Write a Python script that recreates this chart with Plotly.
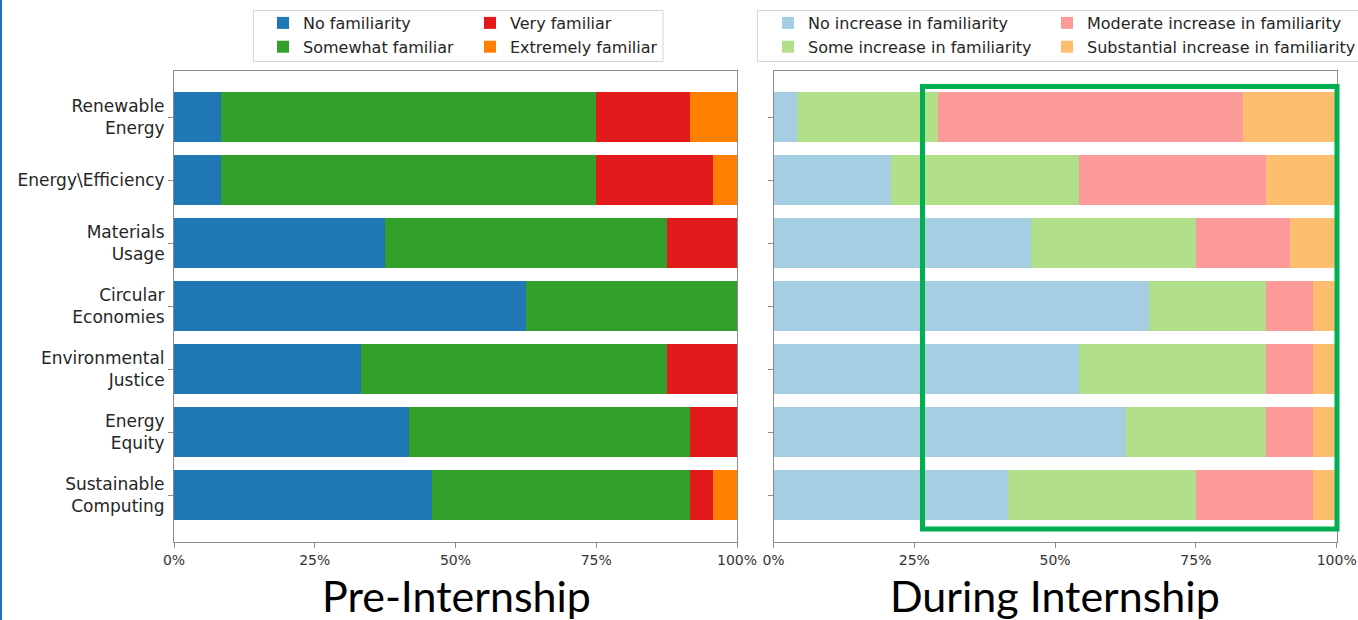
import plotly.graph_objects as go

# ---------------- data ----------------
categories = ["Renewable<br>Energy", "Energy\\Efficiency", "Materials<br>Usage",
              "Circular<br>Economies", "Environmental<br>Justice", "Energy<br>Equity",
              "Sustainable<br>Computing"]

pre_labels = ["No familiarity", "Somewhat familiar", "Very familiar", "Extremely familiar"]
pre_no = [8.3, 8.3, 37.5, 62.5, 33.3, 41.7, 45.8]
pre_somewhat = [66.7, 66.7, 50.0, 37.5, 54.2, 50.0, 45.8]
pre_very = [16.7, 20.8, 12.5, 0.0, 12.5, 8.3, 4.2]
pre_extremely = [8.3, 4.2, 0.0, 0.0, 0.0, 0.0, 4.2]

dur_labels = ["No increase in familiarity", "Some increase in familiarity",
              "Moderate increase in familiarity", "Substantial increase in familiarity"]
dur_none = [4.2, 20.8, 45.8, 66.7, 54.2, 62.5, 41.7]
dur_some = [25.0, 33.4, 29.2, 20.8, 33.3, 25.0, 33.3]
dur_moderate = [54.1, 33.3, 16.7, 8.3, 8.3, 8.3, 20.8]
dur_substantial = [16.7, 12.5, 8.3, 4.2, 4.2, 4.2, 4.2]

x_ticks = [0, 25, 50, 75, 100]
x_tick_labels = ["0%", "25%", "50%", "75%", "100%"]

panel_titles = ["Pre-Internship", "During Internship"]

# ---------------- styling ----------------
W, H = 1358, 620
pre_colors = ["#1f78b4", "#33a02c", "#e31a1c", "#ff7f00"]
dur_colors = ["#a6cee3", "#b2df8a", "#fb9a99", "#fdbf6f"]
TICK_FONT = dict(family="DejaVu Sans", size=14, color="#333333")
LAB_FONT = dict(family="DejaVu Sans", size=17, color="#262626")
LEG_FONT = dict(family="DejaVu Sans", size=16, color="#262626")

def px_x(v):
    return v / W

def px_y(v):
    return 1 - v / H

fig = go.Figure()

pre_series = [pre_no, pre_somewhat, pre_very, pre_extremely]
pre_legends = ["legend", "legend", "legend2", "legend2"]
for name, vals, col, lg in zip(pre_labels, pre_series, pre_colors, pre_legends):
    fig.add_trace(go.Bar(x=vals, y=categories, orientation="h", name=name,
                         marker=dict(color=col, line=dict(width=0)),
                         xaxis="x", yaxis="y", legend=lg, hoverinfo="x+y+name"))

dur_series = [dur_none, dur_some, dur_moderate, dur_substantial]
dur_legends = ["legend3", "legend3", "legend4", "legend4"]
for name, vals, col, lg in zip(dur_labels, dur_series, dur_colors, dur_legends):
    fig.add_trace(go.Bar(x=vals, y=categories, orientation="h", name=name,
                         marker=dict(color=col, line=dict(width=0)),
                         xaxis="x2", yaxis="y2", legend=lg, hoverinfo="x+y+name"))

ydom = [px_y(541.7), px_y(70.5)]
axis_common = dict(showgrid=False, zeroline=False, showline=True, mirror=True,
                   linecolor="#8c8c8c", linewidth=1, ticks="outside", ticklen=5,
                   tickcolor="#8c8c8c", tickwidth=1, automargin=False)

yrange = [len(categories) - 1 + 0.74, -0.74]

fig.update_layout(
    autosize=True,
    margin=dict(l=0, r=0, t=0, b=0, pad=0, autoexpand=False),
    paper_bgcolor="white", plot_bgcolor="white",
    barmode="stack", bargap=0.2,
    xaxis=dict(domain=[px_x(174), px_x(737)], range=[0, 100], tickvals=x_ticks,
               ticktext=x_tick_labels, tickfont=TICK_FONT, anchor="y", **axis_common),
    yaxis=dict(domain=ydom, type="category", categoryorder="array", categoryarray=categories,
               range=yrange, tickfont=LAB_FONT, anchor="x", **axis_common),
    xaxis2=dict(domain=[px_x(773.5), px_x(1336.7)], range=[0, 100], tickvals=x_ticks,
                ticktext=x_tick_labels, tickfont=TICK_FONT, anchor="y2", **axis_common),
    yaxis2=dict(domain=ydom, type="category", categoryorder="array", categoryarray=categories,
                range=yrange, showticklabels=False, anchor="x2", **axis_common),
    showlegend=True,
)

leg_common = dict(orientation="v", xanchor="left", yanchor="top", traceorder="normal",
                  bgcolor="rgba(0,0,0,0)", borderwidth=0, font=LEG_FONT,
                  tracegroupgap=0, itemclick=False, itemdoubleclick=False)
leg_top = px_y(6)
fig.update_layout(
    legend=dict(x=px_x(263), y=leg_top, **leg_common),
    legend2=dict(x=px_x(470), y=leg_top, **leg_common),
    legend3=dict(x=px_x(768), y=leg_top, **leg_common),
    legend4=dict(x=px_x(1047), y=leg_top, **leg_common),
)

shapes = [
    # legend frames
    dict(type="rect", xref="paper", yref="paper", x0=px_x(253.5), x1=px_x(663),
         y0=px_y(61.5), y1=px_y(10.5), line=dict(color="#d6d6d6", width=1)),
    dict(type="rect", xref="paper", yref="paper", x0=px_x(757.5), x1=px_x(1362),
         y0=px_y(61.5), y1=px_y(10.5), line=dict(color="#d6d6d6", width=1)),
    # green highlight frame
    dict(type="rect", xref="paper", yref="paper", x0=px_x(922.5), x1=px_x(1337),
         y0=px_y(529), y1=px_y(86.5), line=dict(color="#00b050", width=5)),
    # slide border on the left edge
    dict(type="rect", xref="paper", yref="paper", x0=0, x1=px_x(2), y0=0, y1=1,
         line=dict(width=0), fillcolor="#1f6fc0"),
]
fig.update_layout(shapes=shapes)

title_font = dict(family="Lato", size=43, color="black")
fig.add_annotation(text=panel_titles[0], xref="paper", yref="paper",
                   x=px_x(456.5), y=px_y(595), xanchor="center", yanchor="middle",
                   showarrow=False, font=title_font)
fig.add_annotation(text=panel_titles[1], xref="paper", yref="paper",
                   x=px_x(1055), y=px_y(595), xanchor="center", yanchor="middle",
                   showarrow=False, font=title_font)

fig.write_html("out.html", include_plotlyjs=True, full_html=True,
               config={"displayModeBar": False, "responsive": True},
               default_width="100vw",
               default_height="100vh; position:fixed; top:0; left:0; margin:0")
